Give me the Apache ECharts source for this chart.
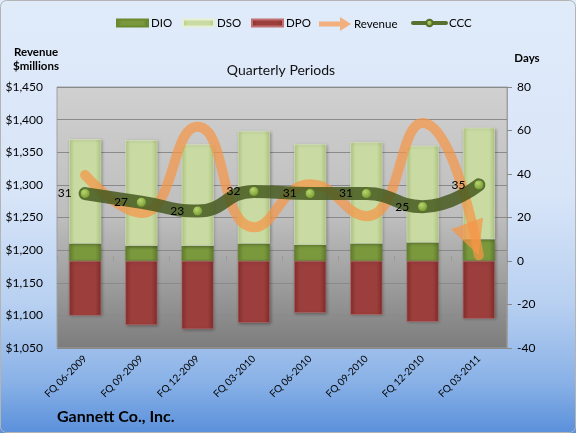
<!DOCTYPE html>
<html><head><meta charset="utf-8">
<script src="https://cdn.jsdelivr.net/npm/echarts@6.0.0/dist/echarts.min.js"></script>
<style>html,body{margin:0;padding:0;background:#fff}#c{width:576px;height:433px}</style>
</head><body><div id="c"></div>
<script>
const categories = ['FQ 06-2009','FQ 09-2009','FQ 12-2009','FQ 03-2010','FQ 06-2010','FQ 09-2010','FQ 12-2010','FQ 03-2011'];
const dio = [8, 7, 7, 8, 7.5, 8, 8.5, 10];
const dso = [48, 48.6, 46.6, 51.8, 46.3, 46.7, 44.5, 51.3];
const dpo = [-25.1, -29.4, -31.3, -28.4, -23.8, -24.7, -27.9, -26.5];
const revenue = [1315, 1257, 1389, 1235, 1301, 1252, 1395, 1192];
const ccc = [31, 27, 23, 32, 31, 31, 25, 35];
const revenueAxis = [1050, 1450, 50];   // min, max, step
const daysAxis = [-40, 80, 20];         // min, max, step

const FONT = 'Lato, "Open Sans", sans-serif';
function hGrad(edge, mid, edge2) {
  return {type:'linear', x:0, y:0, x2:1, y2:0, colorStops:[
    {offset:0, color:edge},{offset:0.18, color:mid},{offset:0.82, color:mid},{offset:1, color:edge2}]};
}
const barShadow = {shadowColor:'rgba(0,0,0,0.3)', shadowBlur:3, shadowOffsetX:1, shadowOffsetY:1};
const revColor = 'rgba(245,150,70,0.72)';

const revData = revenue.map((v, i) => i === revenue.length - 1
  ? {value: v, symbol: 'triangle', symbolSize: [34, 34], symbolRotate: 200, symbolOffset: [-6, -16],
     itemStyle: {color: revColor}}
  : {value: v});

const legendText = {fontFamily:FONT, fontSize:11.5, color:'#000', padding:[0,0,0,-2]};
function oneLegend(item, left, w, h, extra) {
  return Object.assign({data:[item], left:left, top:17, padding:0, itemWidth:w, itemHeight:h,
    selectedMode:false, textStyle:legendText}, extra || {});
}

const chart = echarts.init(document.getElementById('c'), null, {renderer: 'canvas'});
chart.setOption({
  animation: false,
  backgroundColor: {type:'linear', x:0, y:0, x2:0, y2:1, colorStops:[
    {offset:0, color:'#E0EBFA'},{offset:0.45, color:'#D8E5F8'},{offset:0.7, color:'#B8D0F1'},
    {offset:0.88, color:'#8AB2E7'},{offset:1, color:'#5A90DB'}]},
  textStyle: {fontFamily: FONT},
  graphic: [
    {type:'rect', shape:{x:0.5, y:0.5, width:575, height:432, r:6}, style:{fill:'none', stroke:'#B4B4B4', lineWidth:1}, silent:true},
    {type:'text', x:36, y:52, style:{text:'Revenue', font:'bold 11.5px ' + FONT, fill:'#000', textAlign:'center', textVerticalAlign:'middle'}},
    {type:'text', x:36, y:66, style:{text:'$millions', font:'bold 11.5px ' + FONT, fill:'#000', textAlign:'center', textVerticalAlign:'middle'}},
    {type:'text', x:527, y:58, style:{text:'Days', font:'bold 11.5px ' + FONT, fill:'#000', textAlign:'center', textVerticalAlign:'middle'}},
    {type:'text', x:281, y:70, style:{text:'Quarterly Periods', font:'14px ' + FONT, fill:'#111', textAlign:'center', textVerticalAlign:'middle'}},
    {type:'text', x:57, y:417, style:{text:'Gannett Co., Inc.', font:'bold 16px ' + FONT, fill:'#000', textAlign:'left', textVerticalAlign:'middle'}}
  ],
  legend: [
    oneLegend({name:'DIO', icon:'rect'}, 116, 31, 7),
    oneLegend({name:'DSO', icon:'rect'}, 182, 31, 7),
    oneLegend({name:'DPO', icon:'rect'}, 251, 31, 7),
    oneLegend({name:'Revenue', icon:'path://M0,4.5 L21,4.5 L21,0 L32,7 L21,14 L21,9.5 L0,9.5 Z', itemStyle:{color:'#F2B07E', opacity:1}}, 319, 32, 14),
    oneLegend({name:'CCC'}, 411, 33, 8, {lineStyle:{width:4, color:'#5A7030', opacity:1}})
  ],
  grid: {left:57, right:69, top:87, bottom:85, show:true, borderColor:'#A0A0A0', borderWidth:1,
    outerBoundsMode:'none', containLabel:false,
    backgroundColor:{type:'linear', x:0, y:0, x2:0, y2:1, colorStops:[
      {offset:0, color:'#D0D0D0'},{offset:0.5, color:'#BEBEBE'},{offset:1, color:'#7C7C7C'}]}},
  xAxis: {type:'category', data:categories, boundaryGap:true,
    axisLine:{show:false},
    axisTick:{show:true, inside:true, length:5, lineStyle:{color:'#9A9A9A'}},
    axisLabel:{rotate:45, interval:0, fontSize:10, fontFamily:FONT, color:'#000', margin:9}},
  yAxis: [
    {type:'value', position:'left', min:revenueAxis[0], max:revenueAxis[1], interval:revenueAxis[2],
     axisLine:{show:false}, axisTick:{show:false},
     axisLabel:{fontSize:12, fontFamily:FONT, color:'#000', margin:14,
       formatter: v => '$' + v.toLocaleString('en-US')},
     splitLine:{show:true, lineStyle:{color:'#8A8A8A', width:1}}},
    {type:'value', position:'right', min:daysAxis[0], max:daysAxis[1], interval:daysAxis[2],
     axisLine:{show:true, lineStyle:{color:'#A0A0A0'}},
     axisTick:{show:true, length:5, lineStyle:{color:'#888'}},
     axisLabel:{fontSize:12, fontFamily:FONT, color:'#000', margin:10},
     splitLine:{show:false}}
  ],
  series: [
    {name:'DIO', type:'bar', stack:'days', yAxisIndex:1, barWidth:32, data:dio,
     itemStyle:Object.assign({color:hGrad('#66812F','#7A993D','#5F7A2C'), borderColor:'#6A8A30', borderWidth:0.5}, barShadow)},
    {name:'DSO', type:'bar', stack:'days', yAxisIndex:1, barWidth:32, data:dso,
     itemStyle:Object.assign({color:hGrad('#B6CC88','#C9DBA3','#AEC47E'), borderColor:'#E6EFD2', borderWidth:0.5}, barShadow)},
    {name:'DPO', type:'bar', stack:'days', yAxisIndex:1, barWidth:32, data:dpo,
     itemStyle:Object.assign({color:hGrad('#86302E','#9B3E3C','#7E2C2A'), borderColor:'#C07070', borderWidth:0.5}, barShadow)},
    {name:'Revenue', type:'line', yAxisIndex:0, data:revData, smooth:0.5, symbol:'none', showSymbol:true,
     itemStyle:{color:revColor},
     lineStyle:{color:revColor, width:10, cap:'round', join:'round'}, z:3},
    {name:'CCC', type:'line', yAxisIndex:1, data:ccc, smooth:0.5, symbol:'circle', symbolSize:10,
     itemStyle:{color:{type:'radial', x:0.4, y:0.35, r:0.7, colorStops:[{offset:0, color:'#B8D66E'},{offset:1, color:'#6E8F2A'}]},
       borderColor:'#55702A', borderWidth:1},
     lineStyle:{color:'rgba(70,90,32,0.85)', width:13, cap:'round', join:'round'},
     label:{show:true, position:'left', distance:8, fontSize:12, fontFamily:FONT, color:'#000'}, z:4}
  ]
});
</script></body></html>
